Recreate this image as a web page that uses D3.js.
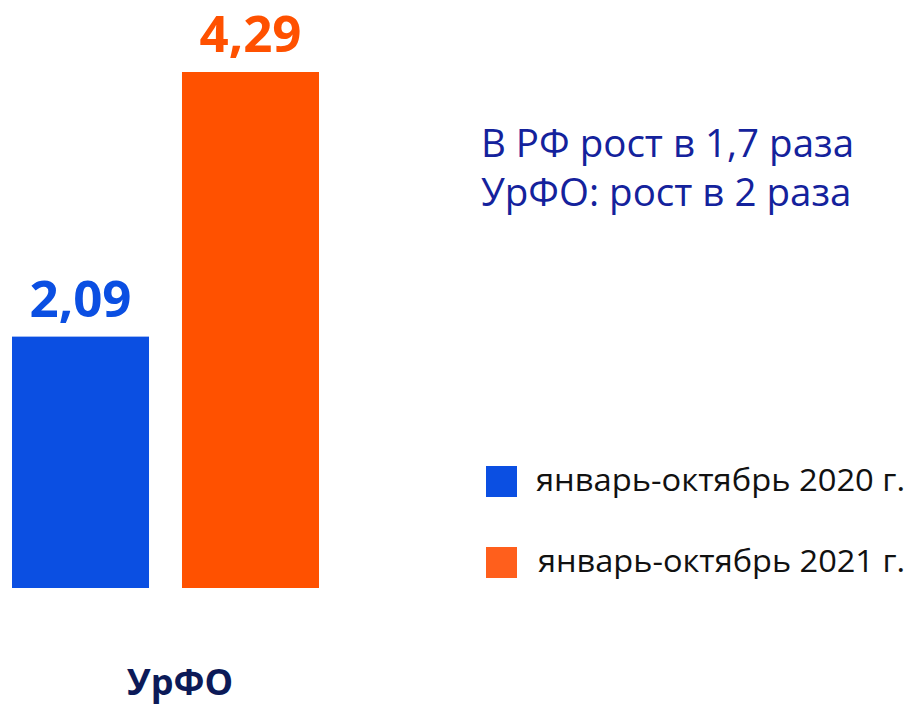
<!DOCTYPE html>
<html>
<head>
<meta charset="utf-8">
<script src="https://cdn.jsdelivr.net/npm/d3@7"></script>
<style>
  body { margin: 0; background: #fff; }
  svg { display: block; }
</style>
</head>
<body>
<div id="chart"></div>
<script>
const width = 914;
const height = 704;

const periods = ["январь-октябрь 2020 г.", "январь-октябрь 2021 г."];
const values = [2.09, 4.29];
const valueLabels = ["2,09", "4,29"];
const barColors = ["#0b4fe2", "#ff5100"];
const legendColors = ["#0b4fe2", "#ff5f1c"];
const category = "УрФО";
const notes = ["В РФ рост в 1,7 раза", "УрФО: рост в 2 раза"];

const svg = d3.select("#chart")
  .append("svg")
  .attr("width", width)
  .attr("height", height);

const x = d3.scaleBand()
  .domain(periods)
  .range([12, 319])
  .paddingInner(0.194)
  .paddingOuter(0);

const y = d3.scaleLinear()
  .domain([0, d3.max(values)])
  .range([588, 72]);

const bars = values.map((v, i) => ({ period: periods[i], value: v, label: valueLabels[i], color: barColors[i] }));

svg.selectAll("rect.bar")
  .data(bars)
  .join("rect")
  .attr("class", "bar")
  .attr("x", d => x(d.period))
  .attr("y", d => y(d.value))
  .attr("width", x.bandwidth())
  .attr("height", d => y(0) - y(d.value))
  .attr("fill", d => d.color);

// value labels above bars
svg.selectAll("text.value")
  .data(bars)
  .join("text")
  .attr("class", "value")
  .attr("x", d => x(d.period) + x.bandwidth() / 2)
  .attr("y", d => y(d.value) - 20)
  .attr("text-anchor", "middle")
  .style("font-family", "'Open Sans', 'Noto Sans', sans-serif")
  .style("font-weight", "bold")
  .style("font-size", "51px")
  .attr("fill", d => d.color)
  .text(d => d.label);

// category label
svg.append("text")
  .attr("x", 180)
  .attr("y", 695)
  .attr("text-anchor", "middle")
  .style("font-family", "'Open Sans', 'Noto Sans', sans-serif")
  .style("font-weight", "bold")
  .style("font-size", "36px")
  .attr("fill", "#0c1a58")
  .text(category);

// growth notes
svg.selectAll("text.note")
  .data(notes)
  .join("text")
  .attr("class", "note")
  .attr("x", 481)
  .attr("y", (d, i) => 157 + i * 49)
  .style("font-family", "'Open Sans', 'Noto Sans', sans-serif")
  .style("font-size", "38.5px")
  .attr("fill", "#14229c")
  .text(d => d);

// legend
const legend = svg.selectAll("g.legend")
  .data(periods)
  .join("g")
  .attr("class", "legend")
  .attr("transform", (d, i) => `translate(486, ${466 + i * 81})`);

legend.append("rect")
  .attr("width", 31)
  .attr("height", 31)
  .attr("fill", (d, i) => legendColors[i]);

legend.append("text")
  .attr("x", (d, i) => 50 + i * 2)
  .attr("y", 25)
  .style("font-family", "'Open Sans', 'Noto Sans', sans-serif")
  .style("font-size", "31px")
  .attr("fill", "#111")
  .attr("textLength", (d, i) => 369 - i * 2)
  .attr("lengthAdjust", "spacingAndGlyphs")
  .text(d => d);
</script>
</body>
</html>
